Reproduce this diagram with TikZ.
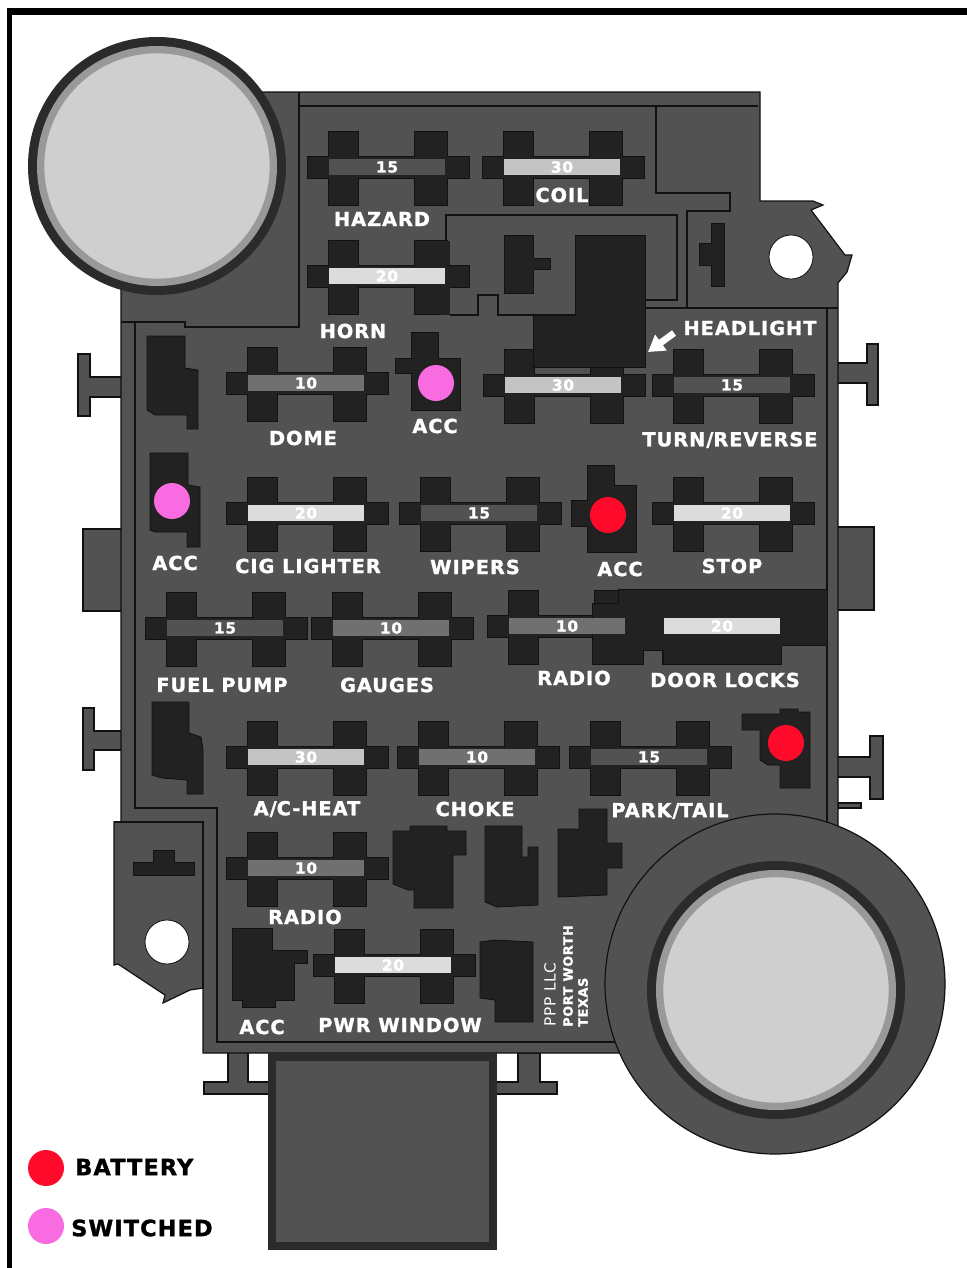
\documentclass[tikz,border=0pt]{standalone}
\usepackage{fontspec}
\setmainfont[LetterSpace=5, BoldFeatures={FakeBold=1.4}]{DejaVu Sans}
\definecolor{CaseGray}{RGB}{82,82,82}
\definecolor{SlotBlack}{RGB}{34,34,34}
\definecolor{LineBlack}{RGB}{17,17,17}
\definecolor{RingDark}{RGB}{43,43,43}
\definecolor{RingGray}{RGB}{153,153,153}
\definecolor{CapGray}{RGB}{207,207,207}
\definecolor{BarTen}{RGB}{112,112,112}
\definecolor{BarFifteen}{RGB}{82,82,82}
\definecolor{BarTwenty}{RGB}{220,220,220}
\definecolor{BarThirty}{RGB}{196,196,196}
\definecolor{HotRed}{RGB}{255,10,42}
\definecolor{SwPink}{RGB}{249,107,224}
\usetikzlibrary{arrows.meta}

\begin{document}
\begin{tikzpicture}[x=0.75pt, y=-0.75pt,
	casefill/.style={fill=CaseGray, draw=LineBlack, line width=0.9pt, line join=miter},
	slot/.style={fill=SlotBlack, draw=LineBlack, line width=0.6pt},
	wall/.style={draw=LineBlack, line width=0.9pt},
	bar/.style={rectangle, minimum width=87pt, minimum height=12pt, inner sep=0pt, text=white, font=\bfseries\fontsize{11.5}{12}\selectfont},
	lbl/.style={text=white, inner sep=0pt, font=\bfseries\fontsize{14.5}{15}\selectfont},
	lblb/.style={text=black, inner sep=0pt, font=\bfseries\fontsize{16.8}{18}\selectfont},
	dot/.style={circle, minimum size=27pt, inner sep=0pt}]

	\useasboundingbox (0,0) rectangle (967,1268);
	\fill[white] (0,0) rectangle (967,1268);
	% frame, only top and left
	\fill[black] (7,8) rectangle (967,15);
	\fill[black] (7,8) rectangle (12,1268);

	% side tabs
	\draw[casefill] (121,377) -- (90,377) -- (90,354) -- (78,354) -- (78,416) -- (90,416) -- (90,397) -- (121,397);
	\draw[casefill] (121,529) -- (83,529) -- (83,611) -- (121,611);
	\draw[casefill] (121,731) -- (94,731) -- (94,708) -- (83,708) -- (83,770) -- (94,770) -- (94,750) -- (121,750);
	\draw[casefill] (838,363) -- (867,363) -- (867,344) -- (878,344) -- (878,405) -- (867,405) -- (867,383) -- (838,383);
	\draw[casefill] (838,527) -- (874,527) -- (874,610) -- (838,610);
	\draw[casefill] (838,757) -- (870,757) -- (870,736) -- (883,736) -- (883,799) -- (870,799) -- (870,777) -- (838,777);
	\draw[casefill] (838,803) rectangle (861,808);
	\draw[casefill] (228,1053) -- (228,1082) -- (204,1082) -- (204,1094) -- (270,1094) -- (270,1082) -- (248,1082) -- (248,1053);
	\draw[casefill] (495,1082) -- (518,1082) -- (518,1053) -- (540,1053) -- (540,1082) -- (557,1082) -- (557,1094) -- (495,1094) -- cycle;

	% case outline
	\draw[casefill] (262,92) -- (760,92) -- (760,201) -- (813,201) -- (823,205) -- (811,210) -- (845,255) -- (852,255) -- (847,272)
		-- (838,283) -- (838,1053) -- (203,1053) -- (203,988) -- (190,990) -- (163,1003) -- (165,995) -- (118,964) -- (114,965)
		-- (114,822) -- (121,822) -- (121,290) -- (157,166) -- cycle;

	% inner walls
	\draw[wall] (299,92) -- (299,327) -- (185,327) -- (185,322) -- (121,322);
	\draw[wall] (135,322) -- (135,808) -- (217,808) -- (217,1042) -- (640,1042);
	\draw[wall] (114,822) -- (203,822) -- (203,988);
	\draw[wall] (299,106) -- (758,106);
	\draw[wall] (656,106) -- (656,193) -- (730,193) -- (730,211) -- (687,211) -- (687,308);
	\draw[wall] (645,308) -- (838,308);
	\draw[wall] (827,308) -- (827,840);
	\draw[wall] (446,240) -- (446,215) -- (677,215) -- (677,300) -- (645,300);
	\draw[wall] (450,315) -- (478,315) -- (478,295) -- (498,295) -- (498,315) -- (575,315);

	% holes
	\node[circle, fill=white, draw=LineBlack, line width=0.6pt, minimum size=33pt, inner sep=0pt] (holeR) at (791,257) {};
	\node[circle, fill=white, draw=LineBlack, line width=0.6pt, minimum size=33pt, inner sep=0pt] (holeL) at (167,942) {};

	% connector blocks
	\draw[slot] (504,235) -- (533,235) -- (533,258) -- (550,258) -- (550,269) -- (533,269) -- (533,293) -- (504,293) -- cycle;
	\draw[slot] (711,223) -- (724,223) -- (724,286) -- (711,286) -- (711,265) -- (699,265) -- (699,243) -- (711,243) -- cycle;
	\draw[slot] (147,336) -- (185,336) -- (185,368) -- (198,370) -- (198,429) -- (187,429) -- (187,415) -- (155,415) -- (147,410) -- cycle;
	\draw[slot] (150,453) -- (188,453) -- (188,485) -- (200,487) -- (200,547) -- (187,547) -- (187,532) -- (155,532) -- (150,530) -- cycle;
	\draw[slot] (152,702) -- (189,702) -- (189,733) -- (201,737) -- (203,750) -- (203,794) -- (187,794) -- (187,780) -- (162,778) -- (152,775) -- cycle;
	\draw[slot] (411,332) -- (438,332) -- (438,358) -- (460,358) -- (460,410) -- (411,410) -- (411,373) -- (395,373) -- (395,358) -- (411,358) -- cycle;
	\draw[slot] (587,465) -- (614,465) -- (614,485) -- (636,485) -- (636,552) -- (587,552) -- (587,526) -- (571,526) -- (571,500) -- (587,500) -- cycle;
	\draw[slot] (742,714) -- (780,714) -- (780,709) -- (798,709) -- (798,712) -- (810,712) -- (810,788) -- (780,788) -- (780,765) -- (768,765) -- (760,760) -- (760,730) -- (742,730) -- cycle;
	\draw[slot] (393,831) -- (410,831) -- (410,826) -- (447,826) -- (447,831) -- (466,831) -- (466,855) -- (453,855) -- (453,908) -- (414,908) -- (414,890) -- (408,890) -- (393,884) -- cycle;
	\draw[slot] (485,826) -- (522,826) -- (522,857) -- (528,857) -- (528,847) -- (538,847) -- (538,905) -- (497,907) -- (485,902) -- cycle;
	\draw[slot] (579,809) -- (607,809) -- (607,843) -- (622,843) -- (622,868) -- (607,868) -- (607,895) -- (558,897) -- (558,829) -- (579,829) -- cycle;
	\draw[slot] (232,928) -- (272,928) -- (272,950) -- (307,950) -- (307,963) -- (294,963) -- (294,1000) -- (275,1000) -- (275,1007) -- (242,1007) -- (242,1000) -- (232,1000) -- cycle;
	\draw[slot] (480,942) -- (495,940) -- (533,942) -- (533,1022) -- (495,1022) -- (495,1000) -- (480,998) -- cycle;
	\draw[slot] (153,850) -- (174,850) -- (174,862) -- (194,862) -- (194,875) -- (133,875) -- (133,862) -- (153,862) -- cycle;

	% fuse holders
	\foreach \cx/\cy in {388/167, 563/167, 388/276, 307/383, 564/385, 733/385, 307/513, 480/513, 733/513, 226/628,
		392/628, 568/626, 722/626, 307/757, 478/757, 650/757, 307/868, 394/965}{
		\draw[slot, shift={(\cx,\cy)}] (-60,-36) -- (-30,-36) -- (-30,-11) -- (26,-11) -- (26,-36) -- (59,-36) -- (59,-11) -- (81,-11)
			-- (81,11) -- (59,11) -- (59,38) -- (26,38) -- (26,11) -- (-30,11) -- (-30,38) -- (-60,38) -- (-60,11) -- (-81,11) -- (-81,-11) -- (-60,-11) -- cycle;
	}
	% wider right leg of this one
	\fill[SlotBlack] (440,241) rectangle (450,265);
	\fill[SlotBlack] (440,287) rectangle (450,315);

	% blocks that swallow fuse holders
	\draw[slot] (575,235) -- (645,235) -- (645,367) -- (533,367) -- (533,315) -- (575,315) -- cycle;
	\draw[slot] (618,589) -- (827,589) -- (827,645) -- (781,645) -- (781,664) -- (663,664) -- (663,650) -- (643,650) -- (643,664) -- (592,664) -- (592,603) -- (618,603) -- cycle;

	% fuses
	\foreach \nom/\cx/\cy/\val/\col in {hazard/387/167/15/BarFifteen, coil/562/167/30/BarThirty, horn/387/276/20/BarTwenty,
		dome/306/383/10/BarTen, head/563/385/30/BarThirty, turn/732/385/15/BarFifteen,
		cig/306/513/20/BarTwenty, wipers/479/513/15/BarFifteen, stop/732/513/20/BarTwenty,
		fuel/225/628/15/BarFifteen, gauges/391/628/10/BarTen, radioA/567/626/10/BarTen, door/722/626/20/BarTwenty,
		ac/306/757/30/BarThirty, choke/477/757/10/BarTen, park/649/757/15/BarFifteen,
		radioB/306/868/10/BarTen, pwr/393/965/20/BarTwenty}{
		\node[bar, fill=\col] (f\nom) at (\cx,\cy) {\val};
	}

	% headlight pointer
	\coordinate (ptrA) at (674,333);
	\coordinate (ptrB) at (648,352);
	\draw[-{Triangle[length=12pt, width=14pt]}, white, line width=5pt] (ptrA) -- (ptrB);

	% fused circuit dots
	\node[dot, fill=SwPink] (dotA) at (436,383) {};
	\node[dot, fill=SwPink] (dotB) at (172,501) {};
	\node[dot, fill=HotRed] (dotC) at (608,515) {};
	\node[dot, fill=HotRed] (dotD) at (786,743) {};

	% big cans
	\node[circle, casefill, minimum size=255pt, inner sep=0pt] (canR) at (775,984) {};
	\foreach \cn/\cx/\cy in {L/157/166, Q/776/990}{
		\node[circle, fill=RingDark, minimum size=193.5pt, inner sep=0pt] (out\cn) at (\cx,\cy) {};
		\node[circle, fill=RingGray, minimum size=180pt, inner sep=0pt] (mid\cn) at (\cx,\cy) {};
		\node[circle, fill=CapGray, minimum size=169pt, inner sep=0pt] (cap\cn) at (\cx,\cy) {};
	}

	% plug
	\draw[fill=CaseGray, draw=RingDark, line width=6pt] (272,1057) rectangle (493,1246);

	% labels
	\foreach \nom/\cx/\cy/\txt in {a/382/219/HAZARD, b/562/195/COIL, c/353/331/HORN, d/750/328/HEADLIGHT, e/435/426/ACC,
		f/303/438/DOME, g/730/440/TURN\slash REVERSE, h/175/563/ACC, i/308/566/CIG LIGHTER, j/475/567/WIPERS, k/620/569/ACC,
		l/732/566/STOP, m/222/685/FUEL PUMP, n/387/685/GAUGES, o/574/678/RADIO, p/725/680/DOOR LOCKS, q/307/809/A\slash C-HEAT,
		r/475/809/CHOKE, s/670/811/PARK\slash TAIL, t/305/917/RADIO, u/262/1027/ACC, v/400/1025/PWR WINDOW}{
		\node[lbl] (lab\nom) at (\cx,\cy) {\txt};
	}
	\node[text=white, inner sep=0pt, rotate=90, anchor=west, font=\fontsize{11.5}{12}\selectfont] (ppp) at (550,1027) {PPP LLC};
	\node[text=white, inner sep=0pt, rotate=90, anchor=west, font=\bfseries\fontsize{9.6}{11}\selectfont] (fw) at (568,1027) {PORT WORTH};
	\node[text=white, inner sep=0pt, rotate=90, anchor=west, font=\bfseries\fontsize{9.6}{11}\selectfont] (tx) at (583,1027) {TEXAS};

	% legend
	\node[dot, fill=HotRed] (legA) at (46,1168) {};
	\node[dot, fill=SwPink] (legB) at (46,1226) {};
	\node[lblb, anchor=west] (legAt) at (75,1167) {BATTERY};
	\node[lblb, anchor=west] (legBt) at (71,1228) {SWITCHED};
\end{tikzpicture}
\end{document}
